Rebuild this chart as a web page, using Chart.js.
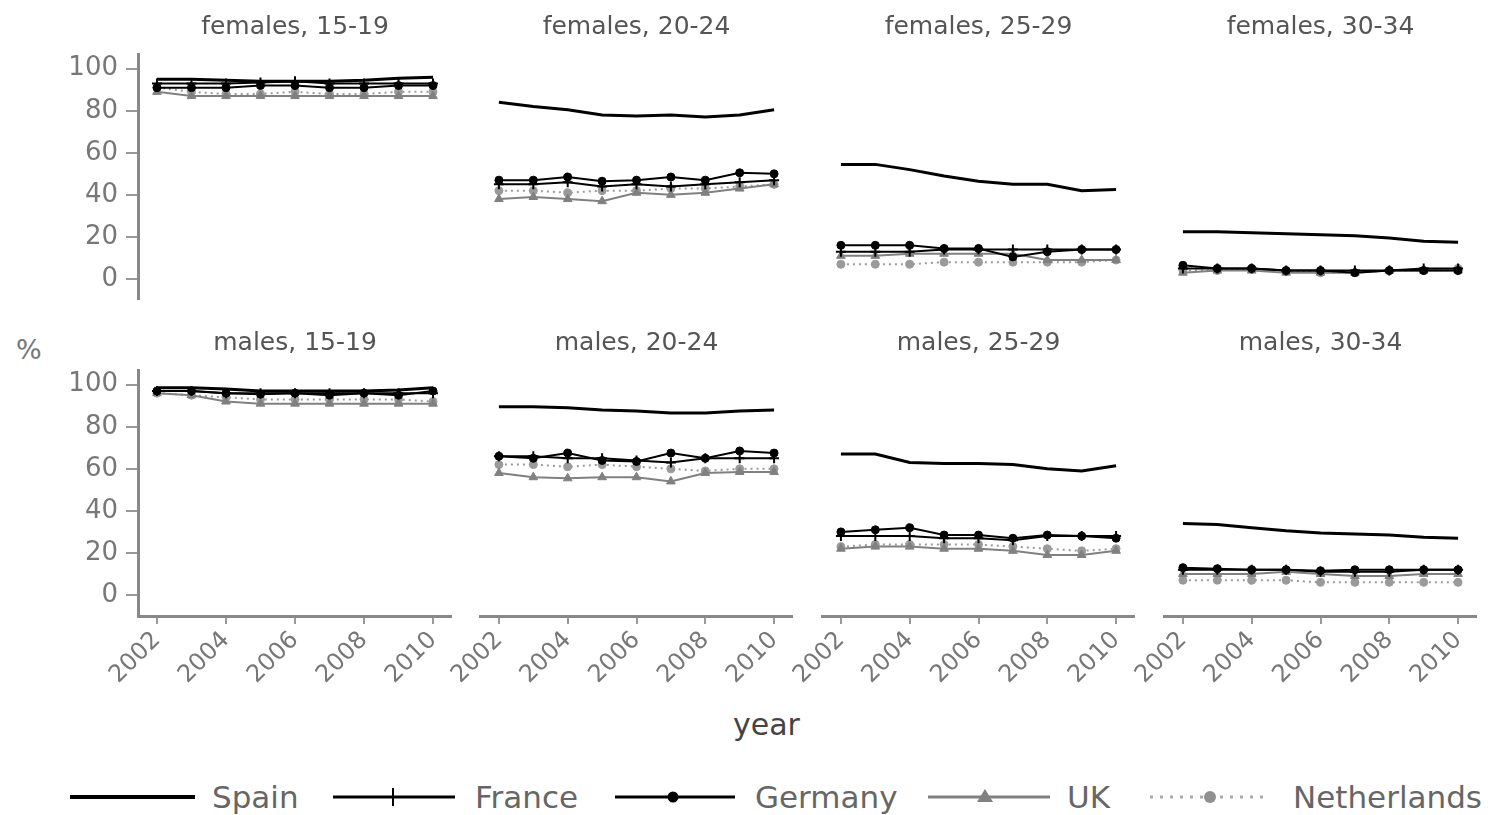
<!DOCTYPE html>
<html><head><meta charset="utf-8">
<script src="https://cdn.jsdelivr.net/npm/chart.js@4.4.0/dist/chart.umd.min.js"></script>
<style>
body{margin:0;background:#fff;width:1499px;height:815px;overflow:hidden;position:relative;font-family:"DejaVu Sans",sans-serif;}
canvas{position:absolute;}
.lbl{position:absolute;white-space:nowrap;line-height:1;}
</style></head><body>
<div class="lbl" style="left:16px;top:336px;font-size:27px;color:#777;">%</div>
<div class="lbl" style="left:733px;top:710px;font-size:30px;color:#444;">year</div>
<svg style="position:absolute;left:0;top:770px" width="1499" height="45" font-family="DejaVu Sans" font-size="31" fill="#666">
  <line x1="70" y1="27" x2="195" y2="27" stroke="#000" stroke-width="4"/>
  <text x="212" y="27" dominant-baseline="central">Spain</text>
  <line x1="333" y1="27" x2="455" y2="27" stroke="#000" stroke-width="3"/>
  <line x1="393" y1="18" x2="393" y2="36" stroke="#000" stroke-width="2"/>
  <text x="475" y="27" dominant-baseline="central">France</text>
  <line x1="615" y1="27" x2="735" y2="27" stroke="#000" stroke-width="3"/>
  <circle cx="673" cy="27" r="5.5" fill="#000"/>
  <text x="755" y="27" dominant-baseline="central">Germany</text>
  <line x1="928" y1="27" x2="1050" y2="27" stroke="#808080" stroke-width="3"/>
  <polygon points="985,19 993,32 977,32" fill="#808080"/>
  <text x="1067" y="27" dominant-baseline="central">UK</text>
  <line x1="1150" y1="27" x2="1265" y2="27" stroke="#aaa" stroke-width="3" stroke-dasharray="3,7"/>
  <circle cx="1210" cy="27" r="6" fill="#909090"/>
  <text x="1293" y="27" dominant-baseline="central">Netherlands</text>
</svg>
<script>
const years=[2002,2003,2004,2005,2006,2007,2008,2009,2010];
const ageGroups=['15-19','20-24','25-29','30-34'];
const sexes=['females','males'];
const yTickValues=[0,20,40,60,80,100];
const xTickValues=[2002,2004,2006,2008,2010];

const spainFemales=[
 [95,95,94.5,94,94,94,94.5,95.5,96],
 [84,82,80.5,78,77.5,78,77,78,80.5],
 [54.5,54.5,52,49,46.5,45,45,42,42.5],
 [22.5,22.5,22,21.5,21,20.5,19.5,18,17.5]];
const spainMales=[
 [98.5,98.5,98,97,97,97,97,97.5,98.5],
 [89.5,89.5,89,88,87.5,86.5,86.5,87.5,88],
 [67,67,63,62.5,62.5,62,60,59,61.5],
 [34,33.5,32,30.5,29.5,29,28.5,27.5,27]];
const franceFemales=[
 [93,93,93,93.5,94,93,93,93,93],
 [45,45,46,44,45,44,45,46,47],
 [13,13,13,14,14,14,14,14,14],
 [5,5,5,4,4,4,4,5,5]];
const franceMales=[
 [97,97,96,96,96,96,96,96,96],
 [66,66,65,65,64,63,65,65,65],
 [28,28,28,27,27,26,28,28,28],
 [12,12,12,12,11,11,11,12,12]];
const germanyFemales=[
 [91,91,91,92,92,91,91,92,92],
 [47,47,48.5,46.5,47,48.5,47,50.5,50],
 [16,16,16,14.5,14.5,10.5,13,14,14],
 [6.5,5,5,4,4,3,4,4,4]];
const germanyMales=[
 [97,97,96,95.5,96,95,96,95,97],
 [66,65,67.5,64,63.5,67.5,65,68.5,67.5],
 [30,31,32,28.5,28.5,27,28.5,28,27],
 [13,12.5,12,12,11.5,12,12,12,12]];
const ukFemales=[
 [89,87,87,87,87,87,87,87,87],
 [38,39,38,37,41,40,41,43,45],
 [11,11,12,12,12,12,9,9,9],
 [3,4,4,3,3,3,4,4,4]];
const ukMales=[
 [96,95,92,91,91,91,91,91,91],
 [58,56,55.5,56,56,54,58,58.5,58.5],
 [22,23,23,22,22,21,19,19,21],
 [10,10,10,11,10,9,9,10,10]];
const nlFemales=[
 [91,89,88,88,89,88,88,89,89],
 [42,42,41,42,42,43,43,44,45],
 [7,7,7,8,8,8,8,8,9],
 [4,4,5,4,3,3,4,4,5]];
const nlMales=[
 [96,95,94,93,93,93,93,93,92],
 [62,62,61,62,61,60,59,60,60],
 [23,24,24,24,24,23,22,21,22],
 [7,7,7,7,6,6,6,6,6]];

const series=[
 {name:'Spain', f:spainFemales, m:spainMales, color:'#000', width:3, style:false, r:0, dash:[]},
 {name:'France', f:franceFemales, m:franceMales, color:'#000', width:2, style:'cross', r:5, dash:[]},
 {name:'Germany', f:germanyFemales, m:germanyMales, color:'#000', width:2, style:'circle', r:4, dash:[]},
 {name:'UK', f:ukFemales, m:ukMales, color:'#808080', width:2, style:'triangle', r:5, dash:[]},
 {name:'Netherlands', f:nlFemales, m:nlMales, color:'#9a9a9a', width:2, style:'circle', r:4, dash:[2,4]}
];

const colLeft=[138,480,822,1164], colRight=[452,793,1135,1477];
const axisGrey='#888', tickGrey='#777';

function makePanel(r,c){
  const left = c===0 ? 20 : colLeft[c]-40;
  const width = colRight[c]-left;
  const top = r===0 ? 2 : 318;
  const height = r===0 ? 298 : 368;
  const cv=document.createElement('canvas');
  cv.width=width; cv.height=height;
  cv.style.left=left+'px'; cv.style.top=top+'px';
  cv.style.width=width+'px'; cv.style.height=height+'px';
  document.body.appendChild(cv);
  const key = r===0 ? 'f' : 'm';
  const showX = r===1, showY = c===0;
  const datasets = series.map(s=>({
    label:s.name,
    data: years.map((y,i)=>({x:y,y:s[key][c][i]})),
    borderColor:s.color, backgroundColor:s.color,
    borderWidth:s.width, borderDash:s.dash,
    pointStyle:s.style||'circle', pointRadius:s.r,
    pointBorderColor:s.color, pointBackgroundColor:s.color,
    pointBorderWidth: s.style==='cross'?2:1,
    tension:0, fill:false
  }));
  new Chart(cv,{
    type:'line',
    data:{datasets},
    options:{
      responsive:false, animation:false, devicePixelRatio:1,
      layout:{autoPadding:false, padding:{left:c===0?0:40,right:0,top:0,bottom:0}},
      plugins:{
        legend:{display:false}, tooltip:{enabled:false},
        title:{display:true, text:sexes[r]+', '+ageGroups[c], color:'#555',
          font:{family:'DejaVu Sans', size:25, weight:'normal', lineHeight:1.2},
          padding:{top:10,bottom:12}, fullSize:false}
      },
      scales:{
        x:{type:'linear', min:2001.45, max:2010.55, display:showX,
          afterBuildTicks:(s)=>{s.ticks=xTickValues.map(v=>({value:v}));},
          afterFit:(s)=>{ if(showX) s.height=70; s.paddingLeft=0; s.paddingRight=0; },
          ticks:{autoSkip:false, minRotation:45, maxRotation:45, padding:2,
            color:tickGrey, font:{family:'DejaVu Sans', size:24},
            callback:(v)=>String(v)},
          grid:{display:true, drawOnChartArea:false, drawTicks:true, tickLength:8, color:'#999', lineWidth:2},
          border:{display:true, color:axisGrey, width:3}
        },
        y:{type:'linear', min:-10, max:107, display:showY,
          afterBuildTicks:(s)=>{s.ticks=yTickValues.map(v=>({value:v}));},
          afterFit:(s)=>{ if(showY) s.width=118; s.paddingTop=0; s.paddingBottom=0; },
          ticks:{padding:8, color:tickGrey, font:{family:'DejaVu Sans', size:26}},
          grid:{display:true, drawOnChartArea:false, drawTicks:true, tickLength:12, color:'#999', lineWidth:2},
          border:{display:true, color:axisGrey, width:3}
        }
      }
    }
  });
}
for(let r=0;r<2;r++) for(let c=0;c<4;c++) makePanel(r,c);
</script>
</body></html>
